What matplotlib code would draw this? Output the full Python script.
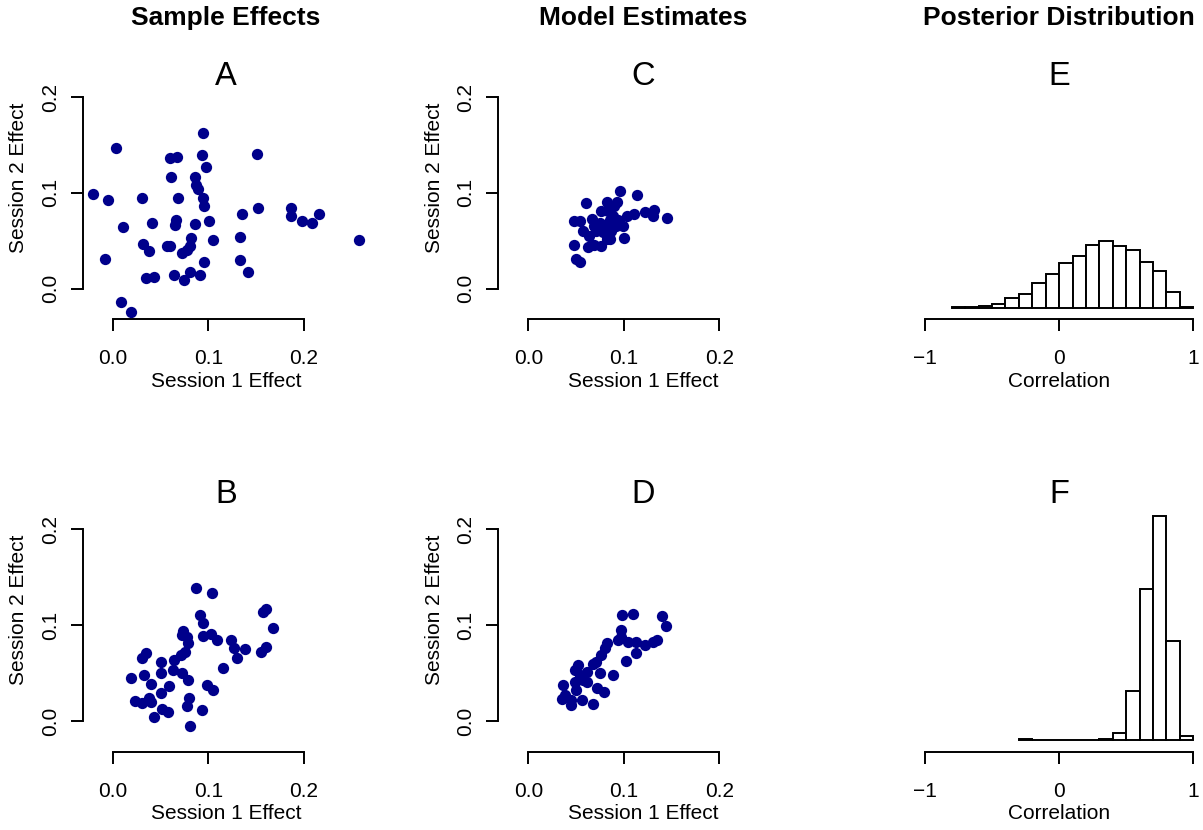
import matplotlib
matplotlib.use("Agg")
import matplotlib.pyplot as plt

plt.rcParams['font.family'] = ['Liberation Sans', 'DejaVu Sans']

# panel A: sample effects, session 1 vs session 2
a_s1 = [0.095, 0.003, 0.060, 0.067, 0.093, 0.151, 0.098, 0.061, 0.086, 0.087,
        0.089, -0.021, -0.005, 0.031, 0.068, 0.094, 0.096, 0.135, 0.152, 0.187,
        0.187, 0.198, 0.209, 0.216, 0.011, 0.041, 0.066, 0.065, 0.086, 0.101,
        0.133, 0.258, 0.032, 0.038, 0.057, 0.060, 0.082, 0.081, 0.078, 0.073,
        0.105, -0.008, 0.096, 0.133, 0.142, 0.035, 0.043, 0.064, 0.081, 0.075,
        0.091, 0.009, 0.019]
a_s2 = [0.162, 0.147, 0.136, 0.137, 0.139, 0.140, 0.127, 0.117, 0.116, 0.108,
        0.104, 0.099, 0.093, 0.095, 0.095, 0.095, 0.086, 0.078, 0.084, 0.084,
        0.076, 0.071, 0.068, 0.078, 0.064, 0.068, 0.072, 0.066, 0.067, 0.071,
        0.054, 0.051, 0.047, 0.039, 0.044, 0.045, 0.053, 0.045, 0.040, 0.037,
        0.051, 0.031, 0.028, 0.030, 0.017, 0.011, 0.012, 0.014, 0.017, 0.009,
        0.014, -0.014, -0.024]

# panel B
b_s1 = [0.087, 0.104, 0.157, 0.160, 0.091, 0.095, 0.168, 0.074, 0.072, 0.078,
        0.079, 0.076, 0.071, 0.064, 0.094, 0.103, 0.109, 0.124, 0.127, 0.139,
        0.130, 0.160, 0.155, 0.035, 0.031, 0.051, 0.051, 0.063, 0.073, 0.079,
        0.033, 0.040, 0.019, 0.059, 0.099, 0.105, 0.115, 0.050, 0.023, 0.031,
        0.038, 0.040, 0.080, 0.078, 0.093, 0.052, 0.058, 0.043, 0.081]
b_s2 = [0.139, 0.134, 0.114, 0.117, 0.111, 0.102, 0.097, 0.094, 0.090, 0.088,
        0.081, 0.072, 0.069, 0.064, 0.089, 0.091, 0.085, 0.085, 0.076, 0.075,
        0.066, 0.077, 0.072, 0.071, 0.066, 0.062, 0.050, 0.053, 0.050, 0.043,
        0.048, 0.039, 0.045, 0.037, 0.038, 0.032, 0.055, 0.029, 0.021, 0.019,
        0.024, 0.020, 0.024, 0.016, 0.012, 0.013, 0.009, 0.004, -0.005]

# panel C: model estimates
c_s1 = [0.096, 0.114, 0.060, 0.082, 0.093, 0.090, 0.048, 0.054, 0.067, 0.103,
        0.111, 0.122, 0.132, 0.131, 0.145, 0.099, 0.100, 0.048, 0.050, 0.054,
        0.062, 0.069, 0.076, 0.085, 0.075, 0.080, 0.085, 0.089, 0.092, 0.078,
        0.087, 0.071, 0.057, 0.064, 0.083, 0.076, 0.082, 0.094, 0.069]
c_s2 = [0.102, 0.098, 0.089, 0.090, 0.090, 0.086, 0.071, 0.071, 0.073, 0.076,
        0.078, 0.080, 0.082, 0.076, 0.074, 0.065, 0.053, 0.046, 0.031, 0.028,
        0.043, 0.046, 0.045, 0.052, 0.069, 0.064, 0.072, 0.076, 0.065, 0.059,
        0.060, 0.060, 0.060, 0.055, 0.081, 0.081, 0.052, 0.072, 0.065]

# panel D
d_s1 = [0.098, 0.110, 0.140, 0.144, 0.097, 0.097, 0.082, 0.080, 0.104, 0.113,
        0.122, 0.113, 0.131, 0.135, 0.102, 0.076, 0.071, 0.068, 0.052, 0.049,
        0.061, 0.075, 0.089, 0.054, 0.061, 0.049, 0.036, 0.072, 0.079, 0.035,
        0.045, 0.045, 0.056, 0.068, 0.038, 0.050, 0.094, 0.057]
d_s2 = [0.111, 0.112, 0.110, 0.099, 0.095, 0.088, 0.081, 0.076, 0.083, 0.083,
        0.079, 0.071, 0.082, 0.085, 0.063, 0.069, 0.062, 0.060, 0.058, 0.053,
        0.051, 0.050, 0.048, 0.048, 0.041, 0.041, 0.038, 0.034, 0.030, 0.023,
        0.022, 0.017, 0.022, 0.018, 0.027, 0.032, 0.085, 0.043]

# panels E and F: posterior of the correlation (density histograms)
e_edges = [-0.8, -0.7, -0.6, -0.5, -0.4, -0.3, -0.2, -0.1, 0.0, 0.1,
           0.2, 0.3, 0.4, 0.5, 0.6, 0.7, 0.8, 0.9]
e_density = [0.012, 0.012, 0.025, 0.069, 0.175, 0.25, 0.456, 0.63, 0.84, 0.97,
             1.18, 1.25, 1.16, 1.075, 0.856, 0.69, 0.29, 0.012]
f_edges = [-0.3, -0.2, -0.1, 0.0, 0.1, 0.2, 0.3, 0.4, 0.5, 0.6, 0.7, 0.8, 0.9]
f_density = [0.015, 0.006, 0.006, 0.006, 0.006, 0.006, 0.02, 0.14, 0.913,
             2.83, 4.21, 1.856, 0.081]

col_titles = ["Sample Effects", "Model Estimates", "Posterior Distribution"]
panel_letters = [["A", "C", "E"], ["B", "D", "F"]]
scatter_ticks = [0.0, 0.1, 0.2]
scatter_ticklabels = ["0.0", "0.1", "0.2"]
corr_ticks = [-1, 0, 1]
corr_ticklabels = ["\u22121", "0", "1"]

W, H = 1203, 830
fig = plt.figure(figsize=(W / 100, H / 100), dpi=100)

def px_axes(left, right, bottom, top):
    return fig.add_axes([left / W, 1 - bottom / H, (right - left) / W, (bottom - top) / H])

def fx(x):
    return x / W

def fy(y):
    return 1 - y / H

LW = 1.4
FS = 15

def r_style(ax, xt, xtl, yt=None, ytl=None):
    for s in ['top', 'right']:
        ax.spines[s].set_visible(False)
    ax.spines['bottom'].set_bounds(xt[0], xt[-1])
    ax.spines['bottom'].set_linewidth(LW)
    ax.set_xticks(xt)
    ax.set_xticklabels(xtl)
    ax.tick_params(axis='x', length=8.6, width=LW, labelsize=FS, pad=13)
    if yt is None:
        ax.spines['left'].set_visible(False)
        ax.set_yticks([])
    else:
        ax.spines['left'].set_bounds(yt[0], yt[-1])
        ax.spines['left'].set_linewidth(LW)
        ax.set_yticks(yt)
        ax.set_yticklabels(ytl, rotation=90, va='center')
        ax.tick_params(axis='y', length=8.6, width=LW, labelsize=FS, pad=8)
    ax.patch.set_visible(False)

cols_left = [82.7, 498.3]
rows_bottom = [319.3, 751.7]
scatter_data = [[(a_s1, a_s2), (c_s1, c_s2)], [(b_s1, b_s2), (d_s1, d_s2)]]
hist_data = [(e_edges, e_density), (f_edges, f_density)]
col_centers = [226, 643, 1059]

for r in range(2):
    bot = rows_bottom[r]
    top = bot - 279.3
    for c in range(2):
        left = cols_left[c]
        ax = px_axes(left, left + 278.8, bot, top)
        xs, ys = scatter_data[r][c]
        ax.scatter(xs, ys, s=66, color='#00008B', linewidths=0, zorder=3, clip_on=False)
        ax.set_xlim(-0.0315, 0.2605)
        ax.set_ylim(-0.032, 0.2595)
        r_style(ax, scatter_ticks, scatter_ticklabels, scatter_ticks, scatter_ticklabels)
        fig.text(fx(left - 63.7), fy(bot - 141.5), "Session 2 Effect", rotation=90,
                 ha='center', va='center', fontsize=FS)
        fig.text(fx(col_centers[c]), fy(bot + 62), "Session 1 Effect",
                 ha='center', va='center', fontsize=FS)
    ax = px_axes(919.6, 1198.7, bot, top)
    edges, dens = hist_data[r]
    ax.bar(edges, dens, width=0.1, align='edge', color='white', edgecolor='black',
           linewidth=LW, zorder=3)
    ax.set_xlim(-1.04, 1.04)
    ax.set_ylim(-0.2175, 5.02)
    r_style(ax, corr_ticks, corr_ticklabels)
    fig.text(fx(col_centers[2]), fy(bot + 62), "Correlation",
             ha='center', va='center', fontsize=FS)

title_y = [76.7, 494.5]
for r in range(2):
    for c in range(3):
        fig.text(fx(col_centers[c]), fy(title_y[r]), panel_letters[r][c],
                 ha='center', va='center', fontsize=23.5)

for c in range(3):
    fig.text(fx(col_centers[c]), fy(18), col_titles[c], ha='center', va='center',
             fontsize=19, fontweight='bold')

fig.savefig("out.png", dpi=100)
